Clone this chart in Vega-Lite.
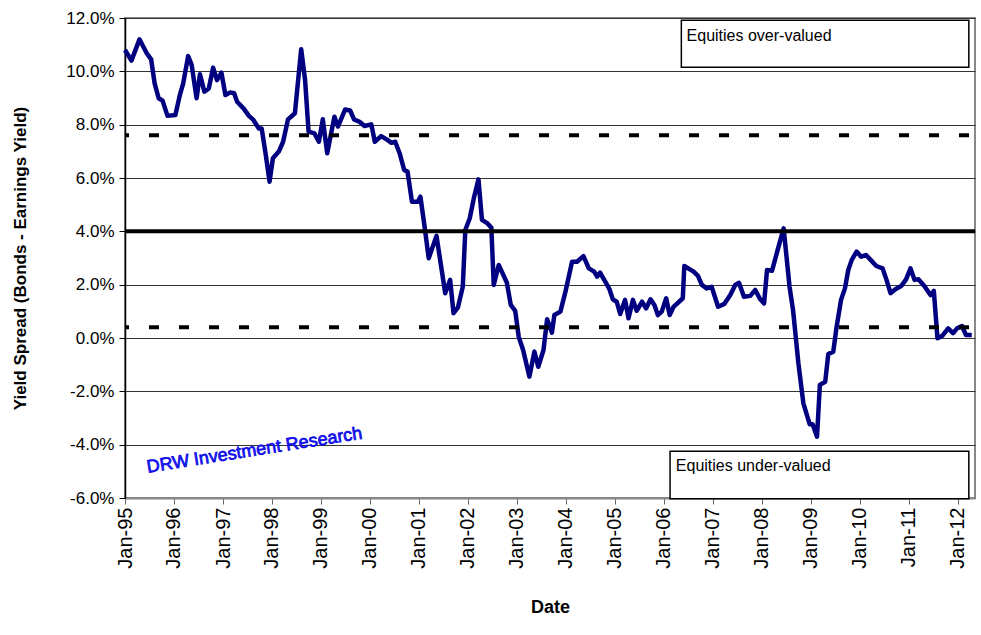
{
  "$schema": "https://vega.github.io/schema/vega-lite/v6.json",
  "autosize": "none",
  "width": 850,
  "height": 480,
  "padding": {"left": 125, "top": 18, "right": 6, "bottom": 137},
  "background": "white",
  "config": {
    "font": "Liberation Sans",
    "view": {"stroke": "#888888", "strokeWidth": 2}
  },
  "datasets": {
    "spread": [
      {"date": "1995-01-01", "spread": 10.8},
      {"date": "1995-02-18", "spread": 10.4},
      {"date": "1995-04-19", "spread": 11.2},
      {"date": "1995-06-13", "spread": 10.67},
      {"date": "1995-07-15", "spread": 10.45},
      {"date": "1995-08-10", "spread": 9.55},
      {"date": "1995-09-09", "spread": 8.99},
      {"date": "1995-10-08", "spread": 8.9},
      {"date": "1995-11-14", "spread": 8.33},
      {"date": "1996-01-12", "spread": 8.36},
      {"date": "1996-02-14", "spread": 9.11},
      {"date": "1996-03-10", "spread": 9.55},
      {"date": "1996-04-16", "spread": 10.57},
      {"date": "1996-05-12", "spread": 10.24},
      {"date": "1996-06-18", "spread": 8.99},
      {"date": "1996-07-13", "spread": 9.89},
      {"date": "1996-08-15", "spread": 9.24},
      {"date": "1996-09-17", "spread": 9.36},
      {"date": "1996-10-19", "spread": 10.14},
      {"date": "1996-11-17", "spread": 9.67},
      {"date": "1996-12-20", "spread": 9.95},
      {"date": "1997-01-19", "spread": 9.11},
      {"date": "1997-02-24", "spread": 9.21},
      {"date": "1997-03-25", "spread": 9.18},
      {"date": "1997-04-16", "spread": 8.86},
      {"date": "1997-06-03", "spread": 8.61},
      {"date": "1997-07-13", "spread": 8.33},
      {"date": "1997-08-12", "spread": 8.2},
      {"date": "1997-09-25", "spread": 7.86},
      {"date": "1997-10-16", "spread": 7.86},
      {"date": "1997-11-14", "spread": 6.93},
      {"date": "1997-12-14", "spread": 5.86},
      {"date": "1998-01-08", "spread": 6.74},
      {"date": "1998-02-21", "spread": 6.99},
      {"date": "1998-03-25", "spread": 7.36},
      {"date": "1998-05-01", "spread": 8.2},
      {"date": "1998-06-21", "spread": 8.43},
      {"date": "1998-08-07", "spread": 10.83},
      {"date": "1998-09-05", "spread": 9.67},
      {"date": "1998-10-01", "spread": 7.74},
      {"date": "1998-11-14", "spread": 7.67},
      {"date": "1998-12-17", "spread": 7.36},
      {"date": "1999-01-15", "spread": 8.2},
      {"date": "1999-02-17", "spread": 6.93},
      {"date": "1999-04-12", "spread": 8.3},
      {"date": "1999-05-08", "spread": 7.93},
      {"date": "1999-07-01", "spread": 8.57},
      {"date": "1999-08-07", "spread": 8.53},
      {"date": "1999-09-05", "spread": 8.2},
      {"date": "1999-10-16", "spread": 8.11},
      {"date": "1999-11-22", "spread": 7.95},
      {"date": "2000-01-12", "spread": 8.01},
      {"date": "2000-02-07", "spread": 7.36},
      {"date": "2000-03-25", "spread": 7.57},
      {"date": "2000-05-05", "spread": 7.45},
      {"date": "2000-06-10", "spread": 7.32},
      {"date": "2000-07-08", "spread": 7.36},
      {"date": "2000-08-10", "spread": 6.93},
      {"date": "2000-09-13", "spread": 6.3},
      {"date": "2000-10-08", "spread": 6.24},
      {"date": "2000-11-10", "spread": 5.11},
      {"date": "2000-12-24", "spread": 5.11},
      {"date": "2001-01-12", "spread": 5.3},
      {"date": "2001-02-14", "spread": 4.11},
      {"date": "2001-03-15", "spread": 2.99},
      {"date": "2001-05-12", "spread": 3.83},
      {"date": "2001-07-16", "spread": 1.68},
      {"date": "2001-08-22", "spread": 2.18},
      {"date": "2001-09-16", "spread": 0.93},
      {"date": "2001-10-19", "spread": 1.15},
      {"date": "2001-11-24", "spread": 1.92},
      {"date": "2001-12-13", "spread": 4.05},
      {"date": "2002-01-15", "spread": 4.49},
      {"date": "2002-02-17", "spread": 5.3},
      {"date": "2002-03-21", "spread": 5.95},
      {"date": "2002-04-16", "spread": 4.43},
      {"date": "2002-05-22", "spread": 4.32},
      {"date": "2002-06-25", "spread": 4.14},
      {"date": "2002-07-13", "spread": 1.99},
      {"date": "2002-08-19", "spread": 2.74},
      {"date": "2002-10-19", "spread": 2.07},
      {"date": "2002-11-17", "spread": 1.24},
      {"date": "2002-12-20", "spread": 1.02},
      {"date": "2003-01-15", "spread": 0.05},
      {"date": "2003-02-17", "spread": -0.45},
      {"date": "2003-04-05", "spread": -1.45},
      {"date": "2003-05-12", "spread": -0.51},
      {"date": "2003-06-10", "spread": -1.08},
      {"date": "2003-07-19", "spread": -0.45},
      {"date": "2003-08-15", "spread": 0.7},
      {"date": "2003-09-20", "spread": 0.2},
      {"date": "2003-10-08", "spread": 0.86},
      {"date": "2003-11-22", "spread": 0.99},
      {"date": "2003-12-28", "spread": 1.7},
      {"date": "2004-02-17", "spread": 2.86},
      {"date": "2004-03-25", "spread": 2.86},
      {"date": "2004-05-12", "spread": 3.07},
      {"date": "2004-06-21", "spread": 2.61},
      {"date": "2004-07-31", "spread": 2.49},
      {"date": "2004-08-22", "spread": 2.3},
      {"date": "2004-09-13", "spread": 2.45},
      {"date": "2004-10-31", "spread": 2.03},
      {"date": "2004-11-22", "spread": 1.83},
      {"date": "2004-12-17", "spread": 1.45},
      {"date": "2005-01-15", "spread": 1.36},
      {"date": "2005-02-10", "spread": 0.9},
      {"date": "2005-03-18", "spread": 1.43},
      {"date": "2005-04-13", "spread": 0.74},
      {"date": "2005-05-16", "spread": 1.43},
      {"date": "2005-06-13", "spread": 1.02},
      {"date": "2005-07-23", "spread": 1.36},
      {"date": "2005-08-22", "spread": 1.11},
      {"date": "2005-09-24", "spread": 1.45},
      {"date": "2005-10-23", "spread": 1.24},
      {"date": "2005-11-18", "spread": 0.86},
      {"date": "2005-12-17", "spread": 0.99},
      {"date": "2006-01-19", "spread": 1.49},
      {"date": "2006-02-14", "spread": 0.86},
      {"date": "2006-03-15", "spread": 1.17},
      {"date": "2006-05-23", "spread": 1.49},
      {"date": "2006-06-03", "spread": 2.7},
      {"date": "2006-08-12", "spread": 2.49},
      {"date": "2006-09-13", "spread": 2.33},
      {"date": "2006-10-12", "spread": 1.99},
      {"date": "2006-11-17", "spread": 1.86},
      {"date": "2006-12-24", "spread": 1.92},
      {"date": "2007-02-10", "spread": 1.17},
      {"date": "2007-03-29", "spread": 1.28},
      {"date": "2007-05-12", "spread": 1.61},
      {"date": "2007-06-18", "spread": 1.99},
      {"date": "2007-07-16", "spread": 2.07},
      {"date": "2007-08-22", "spread": 1.55},
      {"date": "2007-10-08", "spread": 1.58},
      {"date": "2007-11-14", "spread": 1.8},
      {"date": "2007-12-20", "spread": 1.46},
      {"date": "2008-01-19", "spread": 1.3},
      {"date": "2008-02-10", "spread": 2.55},
      {"date": "2008-03-18", "spread": 2.52},
      {"date": "2008-05-01", "spread": 3.33},
      {"date": "2008-06-13", "spread": 4.11},
      {"date": "2008-07-27", "spread": 1.92},
      {"date": "2008-08-22", "spread": 1.05},
      {"date": "2008-10-01", "spread": -0.95},
      {"date": "2008-11-07", "spread": -2.45},
      {"date": "2008-12-24", "spread": -3.23},
      {"date": "2009-01-15", "spread": -3.23},
      {"date": "2009-02-17", "spread": -3.7},
      {"date": "2009-03-10", "spread": -1.76},
      {"date": "2009-04-19", "spread": -1.64},
      {"date": "2009-05-12", "spread": -0.6},
      {"date": "2009-06-18", "spread": -0.51},
      {"date": "2009-07-13", "spread": 0.42},
      {"date": "2009-08-15", "spread": 1.43},
      {"date": "2009-09-13", "spread": 1.86},
      {"date": "2009-10-08", "spread": 2.55},
      {"date": "2009-11-03", "spread": 2.93},
      {"date": "2009-12-09", "spread": 3.24},
      {"date": "2010-01-12", "spread": 3.05},
      {"date": "2010-02-17", "spread": 3.11},
      {"date": "2010-03-29", "spread": 2.9},
      {"date": "2010-05-05", "spread": 2.7},
      {"date": "2010-06-21", "spread": 2.61},
      {"date": "2010-07-20", "spread": 2.18},
      {"date": "2010-08-19", "spread": 1.68},
      {"date": "2010-09-24", "spread": 1.83},
      {"date": "2010-11-07", "spread": 1.95},
      {"date": "2010-12-13", "spread": 2.2},
      {"date": "2011-01-15", "spread": 2.61},
      {"date": "2011-02-14", "spread": 2.18},
      {"date": "2011-03-15", "spread": 2.2},
      {"date": "2011-04-28", "spread": 1.95},
      {"date": "2011-06-13", "spread": 1.61},
      {"date": "2011-07-08", "spread": 1.77},
      {"date": "2011-08-04", "spread": -0.01},
      {"date": "2011-09-09", "spread": 0.08},
      {"date": "2011-10-23", "spread": 0.36},
      {"date": "2011-11-28", "spread": 0.18},
      {"date": "2011-12-28", "spread": 0.36},
      {"date": "2012-02-03", "spread": 0.45},
      {"date": "2012-03-04", "spread": 0.11},
      {"date": "2012-04-16", "spread": 0.11}
    ],
    "boxes": [
      {"start": "2006-05-12", "end": "2012-03-25", "top": 11.92, "bottom": 10.15, "label": "Equities over-valued", "tx": "2006-06-20", "ty": 11.15},
      {"start": "2006-02-17", "end": "2012-03-25", "top": -4.25, "bottom": -6.03, "label": "Equities under-valued", "tx": "2006-04-01", "ty": -5.0}
    ],
    "mean": [{"level": 4.0}],
    "bands": [{"level": 7.6}, {"level": 0.4}],
    "mark": [{"date": "1995-06-20", "value": -5.05, "text": "DRW Investment Research"}]
  },
  "layer": [
    {
      "data": {"name": "boxes"},
      "mark": {"type": "rect", "fill": "white", "stroke": "black", "strokeWidth": 1.5, "clip": false},
      "encoding": {
        "x": {"field": "start", "type": "temporal"},
        "x2": {"field": "end"},
        "y": {"field": "top", "type": "quantitative"},
        "y2": {"field": "bottom"}
      }
    },
    {
      "data": {"name": "spread"},
      "mark": {"type": "line", "color": "#000080", "strokeWidth": 4.5, "strokeJoin": "round"},
      "encoding": {
        "x": {
          "field": "date",
          "type": "temporal",
          "scale": {"domain": ["1995-01-01", "2012-05-10"], "nice": false},
          "axis": {
            "title": "Date",
            "titleFont": "Liberation Sans",
            "titleFontSize": 18,
            "titleFontWeight": "bold",
            "titleColor": "black",
            "titlePadding": 30,
            "format": "%b-%y",
            "tickCount": {"interval": "year", "step": 1},
            "labelAngle": -90,
            "labelFontSize": 20,
            "labelColor": "black",
            "labelPadding": 3,
            "labelFlush": false,
            "labelOverlap": false,
            "grid": false,
            "domainColor": "#888888",
            "domainWidth": 2,
            "tickColor": "#666666",
            "tickSize": 6
          }
        },
        "y": {
          "field": "spread",
          "type": "quantitative",
          "scale": {"domain": [-6, 12], "nice": false, "zero": false},
          "axis": {
            "title": "Yield Spread (Bonds - Earnings Yield)",
            "titleFont": "Liberation Sans",
            "titleFontSize": 17,
            "titleFontWeight": "bold",
            "titleColor": "black",
            "titlePadding": 36,
            "values": [-6, -4, -2, 0, 2, 4, 6, 8, 10, 12],
            "labelExpr": "(datum.value < 0 ? '-' : '') + format(abs(datum.value), '.1f') + '%'",
            "labelFontSize": 17,
            "labelColor": "black",
            "labelPadding": 5,
            "labelFlush": false,
            "grid": true,
            "gridColor": "#333333",
            "gridWidth": 1,
            "domainColor": "black",
            "domainWidth": 1.5,
            "tickColor": "black",
            "tickSize": 6
          }
        }
      }
    },
    {
      "data": {"name": "mean"},
      "mark": {"type": "rule", "color": "black", "strokeWidth": 4},
      "encoding": {"y": {"field": "level", "type": "quantitative"}}
    },
    {
      "data": {"name": "bands"},
      "mark": {"type": "rule", "color": "black", "strokeWidth": 4, "strokeDash": [10, 20], "strokeDashOffset": -6},
      "encoding": {"y": {"field": "level", "type": "quantitative"}}
    },
    {
      "data": {"name": "boxes"},
      "mark": {"type": "text", "align": "left", "baseline": "alphabetic", "fontSize": 16, "color": "black"},
      "encoding": {
        "x": {"field": "tx", "type": "temporal"},
        "y": {"field": "ty", "type": "quantitative"},
        "text": {"field": "label"}
      }
    },
    {
      "data": {"name": "mark"},
      "mark": {"type": "text", "align": "left", "baseline": "alphabetic", "fontSize": 18, "angle": -9, "fill": "#1a1aff", "stroke": "#0000dd", "strokeWidth": 0.7, "font": "Liberation Sans"},
      "encoding": {
        "x": {"field": "date", "type": "temporal"},
        "y": {"field": "value", "type": "quantitative"},
        "text": {"field": "text"}
      }
    }
  ]
}
